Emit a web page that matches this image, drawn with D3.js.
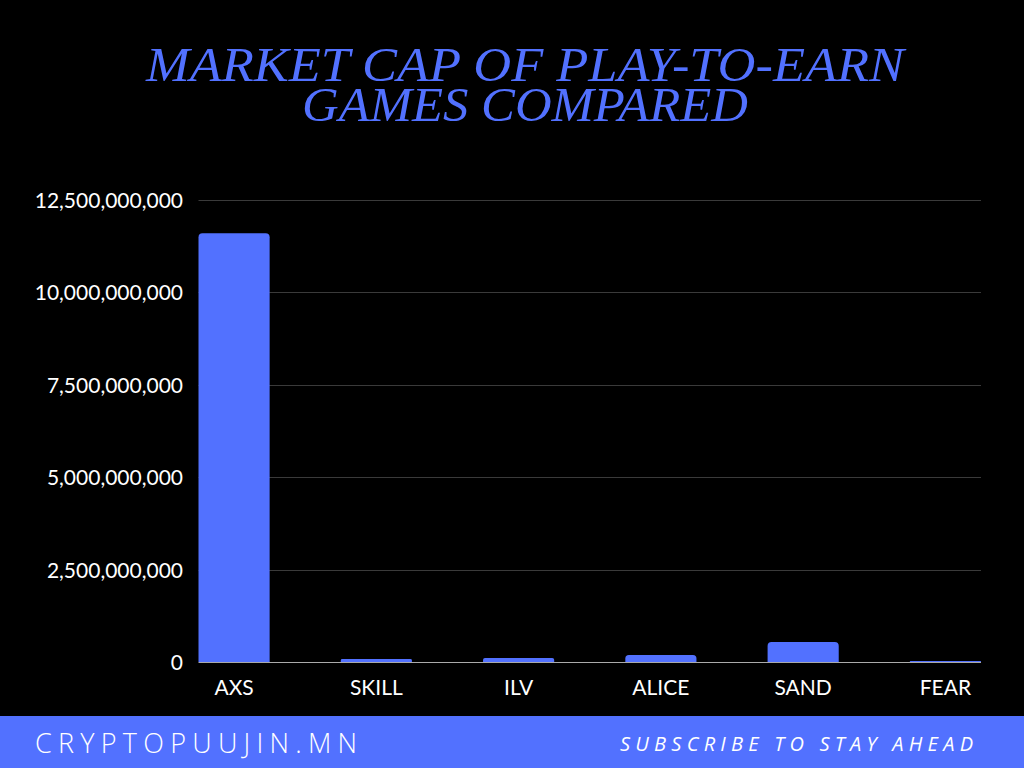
<!DOCTYPE html>
<html>
<head>
<meta charset="utf-8">
<script src="https://cdn.jsdelivr.net/npm/d3@7"></script>
<style>
  html, body { margin: 0; padding: 0; background: #000; }
  svg { display: block; }
</style>
</head>
<body>
<div id="chart"></div>
<script>
// chart data
var categories = ["AXS", "SKILL", "ILV", "ALICE", "SAND", "FEAR"];
var marketCaps = [11600000000, 80000000, 105000000, 190000000, 540000000, 30000000];
var yTicks = [0, 2500000000, 5000000000, 7500000000, 10000000000, 12500000000];
var titleLines = ["MARKET CAP OF PLAY-TO-EARN", "GAMES COMPARED"];

var W = 1024, H = 768;
var blue = "#5271ff";

var svg = d3.select("#chart").append("svg")
  .attr("width", W)
  .attr("height", H)
  .style("background", "#000");

var x = d3.scaleBand()
  .domain(categories)
  .range([198.5, 981])
  .paddingInner(0.5)
  .paddingOuter(0);

var y = d3.scaleLinear()
  .domain([0, 12500000000])
  .range([662, 200]);

// grid lines
svg.append("g")
  .selectAll("line")
  .data(yTicks.slice(1))
  .enter().append("line")
  .attr("x1", 198.5)
  .attr("x2", 981)
  .attr("y1", function (d) { return Math.round(y(d)) + 0.5; })
  .attr("y2", function (d) { return Math.round(y(d)) + 0.5; })
  .style("stroke", "#3a3a3a")
  .style("stroke-width", 1);

// y tick labels
var fmt = d3.format(",");
svg.append("g")
  .selectAll("text")
  .data(yTicks)
  .enter().append("text")
  .attr("x", 183)
  .attr("y", function (d) { return y(d) + 8; })
  .attr("text-anchor", "end")
  .style("font-family", "Lato, sans-serif")
  .style("font-size", "21px")
  .style("fill", "#fff")
  .text(function (d) { return fmt(d); });

// bars with rounded tops
function barPath(d, i) {
  var x0 = x(categories[i]), w = x.bandwidth();
  var top = y(d), base = y(0);
  var r = Math.min(4, (base - top) / 2, w / 2);
  return "M" + x0 + "," + base +
    "V" + (top + r) +
    "Q" + x0 + "," + top + " " + (x0 + r) + "," + top +
    "H" + (x0 + w - r) +
    "Q" + (x0 + w) + "," + top + " " + (x0 + w) + "," + (top + r) +
    "V" + base + "Z";
}

svg.append("g")
  .selectAll("path")
  .data(marketCaps)
  .enter().append("path")
  .attr("d", barPath)
  .style("fill", blue);

// baseline
svg.append("line")
  .attr("x1", 198.5)
  .attr("x2", 981)
  .attr("y1", y(0) + 0.5)
  .attr("y2", y(0) + 0.5)
  .style("stroke", "#aaa")
  .style("stroke-width", 1);

// category labels
svg.append("g")
  .selectAll("text")
  .data(categories)
  .enter().append("text")
  .attr("x", function (d) { return x(d) + x.bandwidth() / 2; })
  .attr("y", 695)
  .attr("text-anchor", "middle")
  .style("font-family", "Lato, sans-serif")
  .style("font-size", "21px")
  .style("fill", "#fff")
  .text(function (d) { return d; });

// title, one text block wrapped over two lines
var titleW = [758, 446];
svg.append("text")
  .attr("text-anchor", "middle")
  .style("font-family", "'Liberation Serif', serif")
  .style("font-style", "italic")
  .style("font-size", "48px")
  .style("fill", blue)
  .selectAll("tspan")
  .data(titleLines)
  .enter().append("tspan")
  .attr("x", 525)
  .attr("y", function (d, i) { return 81 + i * 40; })
  .attr("textLength", function (d, i) { return titleW[i]; })
  .attr("lengthAdjust", "spacingAndGlyphs")
  .text(function (d) { return d; });

// footer band
svg.append("rect")
  .attr("x", 0)
  .attr("y", 716)
  .attr("width", W)
  .attr("height", H - 716)
  .style("fill", blue);

svg.append("text")
  .attr("x", 35)
  .attr("y", 753)
  .attr("textLength", 322)
  .attr("lengthAdjust", "spacing")
  .style("font-family", "'Open Sans', sans-serif")
  .style("font-weight", 300)
  .style("font-size", "27px")
  .style("fill", "#fff")
  .text("CRYPTOPUUJIN.MN");

svg.append("text")
  .attr("x", 620)
  .attr("y", 751)
  .attr("textLength", 353)
  .attr("lengthAdjust", "spacing")
  .style("font-family", "'Open Sans', sans-serif")
  .style("font-style", "italic")
  .style("font-size", "20px")
  .style("fill", "#fff")
  .text("SUBSCRIBE TO STAY AHEAD");
</script>
</body>
</html>
